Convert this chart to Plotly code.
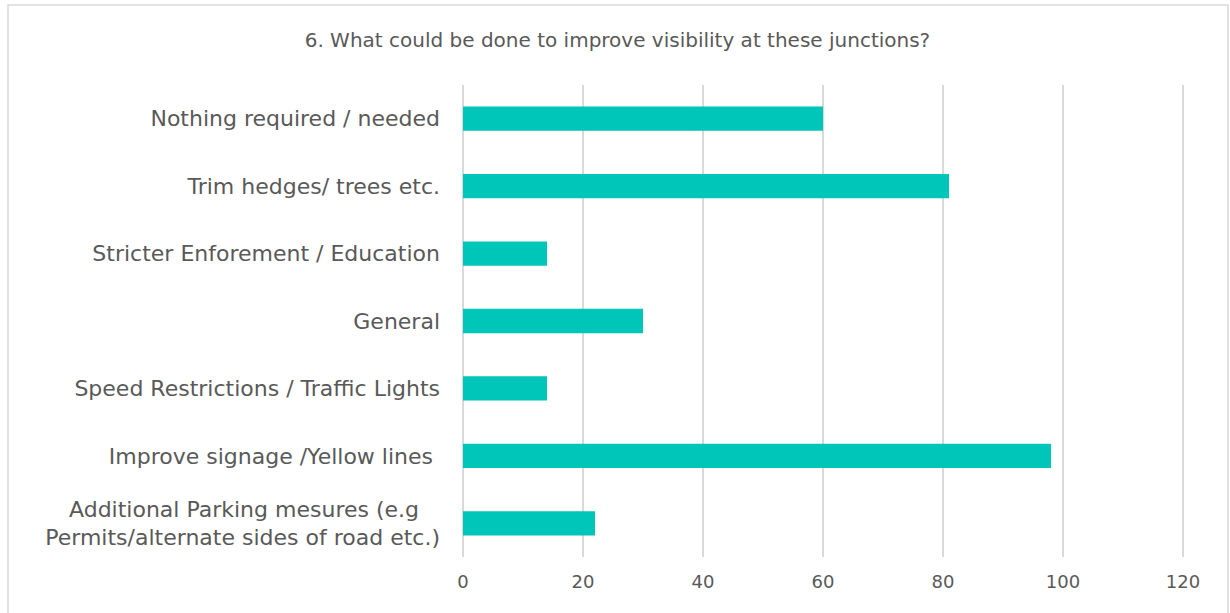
import plotly.graph_objects as go

categories = [
    "Nothing required / needed",
    "Trim hedges/ trees etc.",
    "Stricter Enforement / Education",
    "General",
    "Speed Restrictions / Traffic Lights",
    "Improve signage /Yellow lines ",
    "Additional Parking mesures (e.g\u00a0\u00a0\u00a0<br>Permits/alternate sides of road etc.)",
]
values = [60, 81, 14, 30, 14, 98, 22]
x_ticks = [0, 20, 40, 60, 80, 100, 120]

FONT = "DejaVu Sans, sans-serif"
TEXT = "#595959"
GRID = "#D9D9D9"

fig = go.Figure(
    go.Bar(
        y=categories,
        x=values,
        orientation="h",
        marker=dict(color="#00C5B9", line=dict(width=0)),
        width=0.36,
    )
)

# plot area: x from 463 px, 6 px per unit, range 0..121
fig.update_layout(
    width=1230,
    height=613,
    paper_bgcolor="white",
    plot_bgcolor="white",
    margin=dict(l=463, r=41, t=85, b=56),
    showlegend=False,
    font=dict(family=FONT, color=TEXT),
    title=dict(
        text="6. What could be done to improve visibility at these junctions?",
        x=0.502,
        xanchor="center",
        y=0.935,
        yanchor="middle",
        font=dict(family=FONT, size=20, color=TEXT),
    ),
    xaxis=dict(
        range=[0, 121],
        tickvals=x_ticks,
        showgrid=True,
        gridcolor=GRID,
        gridwidth=1.5,
        zeroline=True,
        zerolinecolor=GRID,
        zerolinewidth=1.5,
        showline=False,
        ticks="",
        tickfont=dict(family=FONT, size=18, color=TEXT),
        ticklabelstandoff=12,
    ),
    yaxis=dict(
        categoryorder="array",
        categoryarray=categories[::-1],
        autorange=True,
        showgrid=False,
        zeroline=False,
        showline=False,
        ticks="",
        tickfont=dict(family=FONT, size=22, color=TEXT),
        ticklabelstandoff=22,
    ),
    shapes=[
        dict(
            type="rect",
            xref="paper",
            yref="paper",
            x0=(8 - 463) / 726,
            x1=(1228 - 463) / 726,
            y0=(557 - 616) / 472,
            y1=(557 - 5) / 472,
            line=dict(color=GRID, width=1.5),
            layer="below",
        )
    ],
)

fig.write_html(
    "out.html",
    config={"displayModeBar": False},
    post_script="document.body.style.margin='0';document.body.style.padding='0';",
)
